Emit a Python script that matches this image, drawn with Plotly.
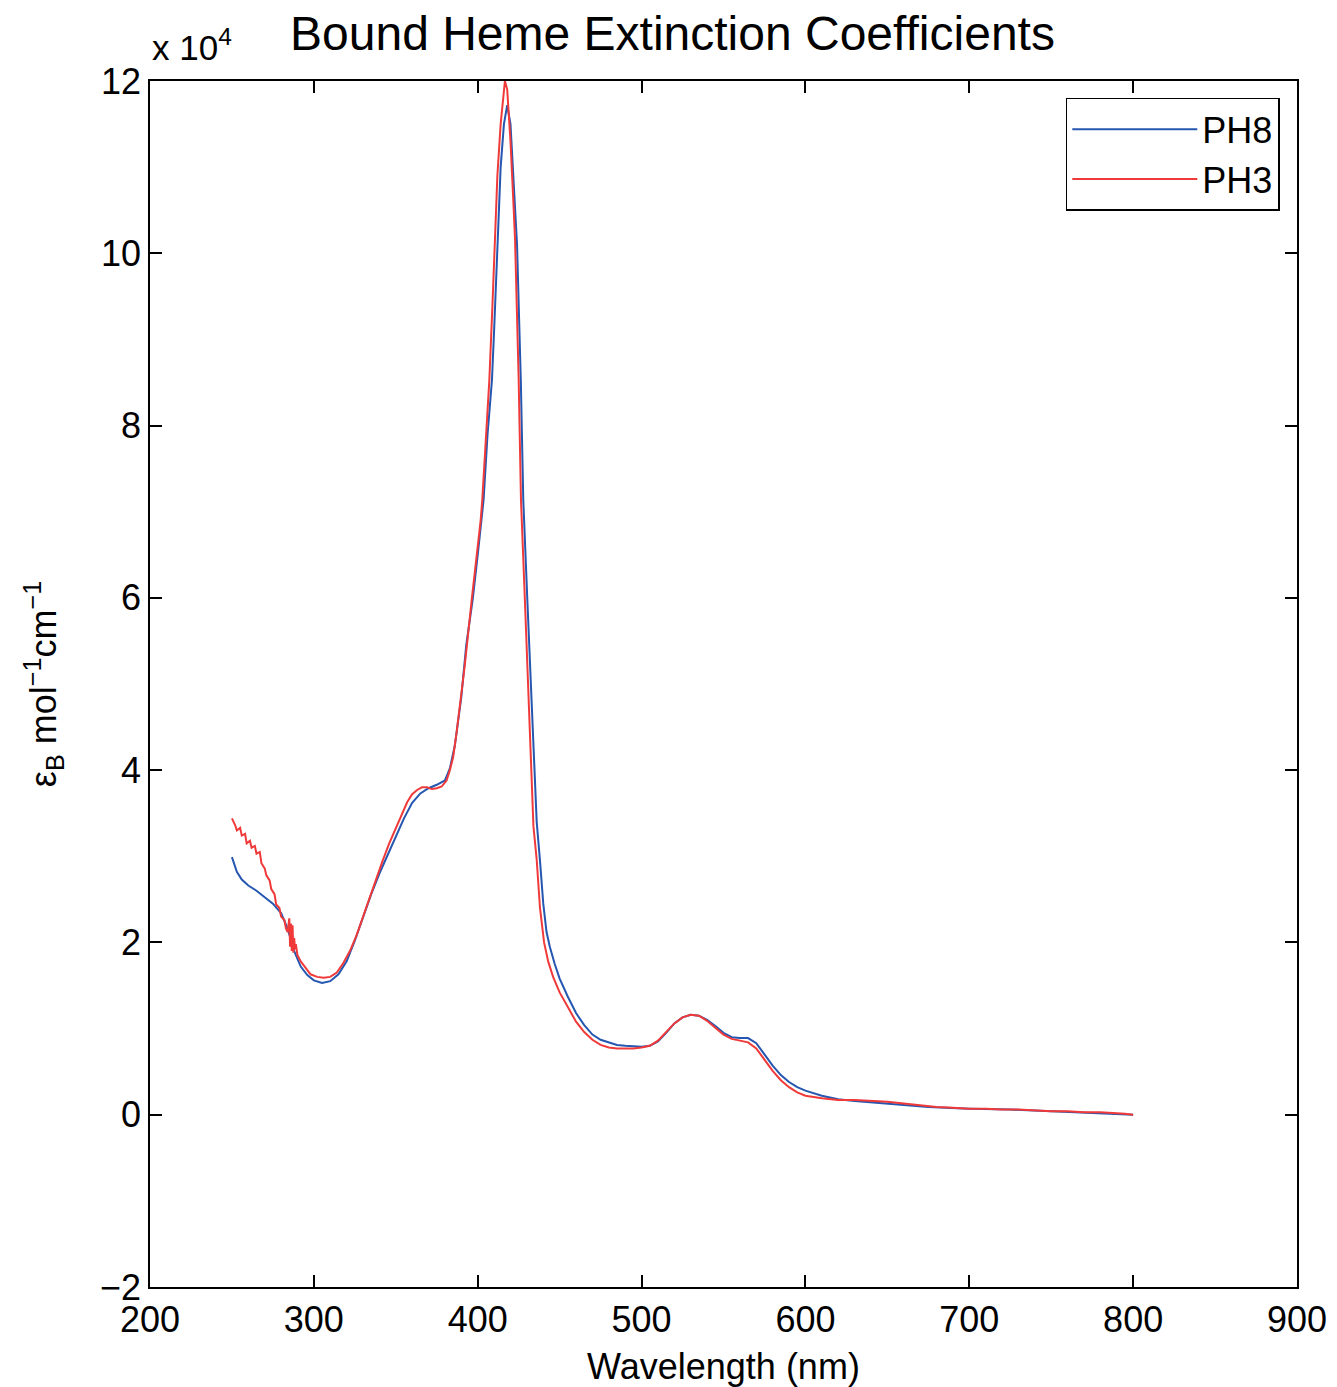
import plotly.graph_objects as go

# Wavelength (nm) and extinction coefficient (x 10^4 mol^-1 cm^-1)
ph8_wl = [250, 253, 256, 260, 265, 270, 275, 280, 284, 288, 292, 296, 300, 305, 310, 315, 320, 325,
          330, 335, 340, 345, 350, 355, 360, 365, 370, 375, 380, 383, 386, 388, 390, 393, 397, 400,
          403.6, 406, 408.7, 410, 412, 414, 416, 418, 420, 422, 424, 426.3, 427.8, 430.3, 432.7,
          435, 436, 438, 440, 442, 444, 447, 450, 455, 460, 465, 470, 475, 480, 485, 490, 495, 500,
          505, 510, 515, 520, 525, 530, 535, 540, 545, 550, 555, 560, 565, 570, 575, 580, 585, 590,
          595, 600, 610, 620, 630, 650, 675, 700, 725, 750, 775, 800]
ph8_eps = [2.99, 2.82, 2.73, 2.66, 2.60, 2.53, 2.45, 2.34, 2.16, 1.90, 1.72, 1.62, 1.56, 1.53, 1.55,
           1.63, 1.78, 2.02, 2.30, 2.56, 2.80, 3.02, 3.23, 3.44, 3.62, 3.73, 3.79, 3.83, 3.88, 4.02,
           4.28, 4.55, 4.85, 5.45, 5.99, 6.50, 7.14, 7.90, 8.53, 9.10, 10.15, 11.0, 11.5, 11.72,
           11.5, 10.8, 10.1, 8.53, 7.14, 5.97, 4.81, 3.73, 3.40, 2.95, 2.45, 2.12, 1.95, 1.75, 1.58,
           1.37, 1.18, 1.04, 0.93, 0.87, 0.84, 0.81, 0.80, 0.795, 0.79, 0.80, 0.85, 0.95, 1.06,
           1.13, 1.16, 1.15, 1.10, 1.03, 0.95, 0.90, 0.89, 0.89, 0.83, 0.70, 0.57, 0.46, 0.38,
           0.32, 0.28, 0.22, 0.18, 0.16, 0.13, 0.09, 0.07, 0.06, 0.04, 0.02, 0.0]

ph3_wl = [250, 252, 253, 255, 256, 258, 259, 261, 262, 264, 265, 267, 268, 270, 271, 273, 274, 276,
          277, 279, 280, 282, 283, 284, 285, 285.5, 286, 286.5, 287, 287.5, 288, 288.5, 289, 290,
          292, 295, 298, 302, 306, 310, 314, 318, 322, 326, 330, 334, 338, 342, 346, 350, 354, 357,
          360, 363, 366, 369, 372, 375, 378, 381, 383, 385, 387, 389.6, 392, 396.3, 399, 401.8,
          402.8, 405, 407.1, 409, 410.5, 412, 414, 416.6, 418, 420, 422, 422.8, 425, 426.4, 428.8,
          431.1, 433, 434, 436, 438, 440.5, 443, 446, 450, 455, 460, 465, 470, 475, 480, 485, 490,
          495, 500, 505, 510, 515, 520, 525, 530, 535, 540, 545, 550, 555, 560, 565, 570, 575, 580,
          585, 590, 595, 600, 610, 620, 630, 640, 650, 660, 670, 680, 690, 700, 710, 720, 730, 740,
          750, 760, 770, 780, 790, 795, 800]
ph3_eps = [3.44, 3.36, 3.30, 3.33, 3.24, 3.26, 3.15, 3.18, 3.10, 3.12, 3.03, 3.05, 2.92, 2.86, 2.78,
           2.72, 2.62, 2.56, 2.44, 2.40, 2.30, 2.26, 2.16, 2.12, 2.28, 1.95, 2.22, 1.90, 2.20, 1.88,
           2.05, 1.92, 1.98, 1.85, 1.78, 1.70, 1.63, 1.60, 1.59, 1.60, 1.65, 1.76, 1.90, 2.08,
           2.30, 2.50, 2.72, 2.95, 3.15, 3.33, 3.50, 3.63, 3.72, 3.77, 3.80, 3.80, 3.78, 3.79,
           3.81, 3.88, 4.00, 4.15, 4.42, 4.81, 5.20, 5.97, 6.42, 6.90, 7.14, 7.85, 8.53, 9.40,
           10.15, 10.9, 11.5, 12.0, 11.9, 11.3, 10.5, 10.15, 8.53, 7.14, 5.97, 4.81, 3.73, 3.35,
           2.96, 2.40, 2.00, 1.78, 1.60, 1.42, 1.25, 1.08, 0.96, 0.87, 0.81, 0.78, 0.77, 0.77,
           0.77, 0.78, 0.80, 0.86, 0.96, 1.06, 1.13, 1.16, 1.15, 1.09, 1.01, 0.93, 0.88, 0.86,
           0.84, 0.77, 0.64, 0.51, 0.40, 0.32, 0.26, 0.22, 0.19, 0.17, 0.17, 0.16, 0.15, 0.13,
           0.11, 0.09, 0.08, 0.07, 0.07, 0.06, 0.06, 0.05, 0.04, 0.04, 0.03, 0.03, 0.02, 0.01, 0.0]

x_ticks = [200, 300, 400, 500, 600, 700, 800, 900]
y_ticks = [-2, 0, 2, 4, 6, 8, 10, 12]

FONT = "Liberation Sans, Arial, Helvetica, sans-serif"
BLUE = "#2557B0"
RED = "#F03A3A"

fig = go.Figure()
fig.add_trace(go.Scatter(x=ph8_wl, y=ph8_eps, mode="lines", name="PH8",
                         line=dict(color=BLUE, width=2)))
fig.add_trace(go.Scatter(x=ph3_wl, y=ph3_eps, mode="lines", name="PH3",
                         line=dict(color=RED, width=2)))

axis_common = dict(showline=True, linecolor="black", linewidth=1.5, mirror="ticks",
                   ticks="inside", ticklen=12, tickwidth=1.5, tickcolor="black",
                   showgrid=False, zeroline=False, automargin=False,
                   tickfont=dict(family=FONT, size=36, color="black"))

# the page body has an 8px margin, so the figure is sized to fit the window
fig.update_layout(
    width=1329, height=1379,
    margin=dict(l=142, r=40, t=73, b=100),
    paper_bgcolor="white", plot_bgcolor="white",
    font=dict(family=FONT, color="black"),
    title=dict(text="Bound Heme Extinction Coefficients", x=0.5, xanchor="center",
               y=0.982, yanchor="middle", font=dict(family=FONT, size=48, color="black")),
    xaxis=dict(range=[200, 900], tickvals=x_ticks, ticktext=[str(v) for v in x_ticks],
               title=dict(text="Wavelength (nm)", font=dict(family=FONT, size=36), standoff=16),
               **axis_common),
    yaxis=dict(range=[-2, 12], tickvals=y_ticks,
               ticktext=[("\u2212" + str(-v)) if v < 0 else str(v) for v in y_ticks],
               title=dict(text="\u03b5<sub>B</sub> mol<sup>\u22121</sup>cm<sup>\u22121</sup>",
                          font=dict(family=FONT, size=36), standoff=32),
               **axis_common),
    legend=dict(x=0.985, y=0.986, xanchor="right", yanchor="top",
                bordercolor="black", borderwidth=1.5, bgcolor="white",
                font=dict(family=FONT, size=36, color="black"),
                itemwidth=125, tracegroupgap=0),
    showlegend=True,
)

fig.add_annotation(text="x 10<sup>4</sup>", xref="paper", yref="paper", x=0, y=1,
                   xanchor="left", yanchor="bottom", yshift=12, showarrow=False,
                   font=dict(family=FONT, size=35, color="black"))

fig.write_html("out.html")
